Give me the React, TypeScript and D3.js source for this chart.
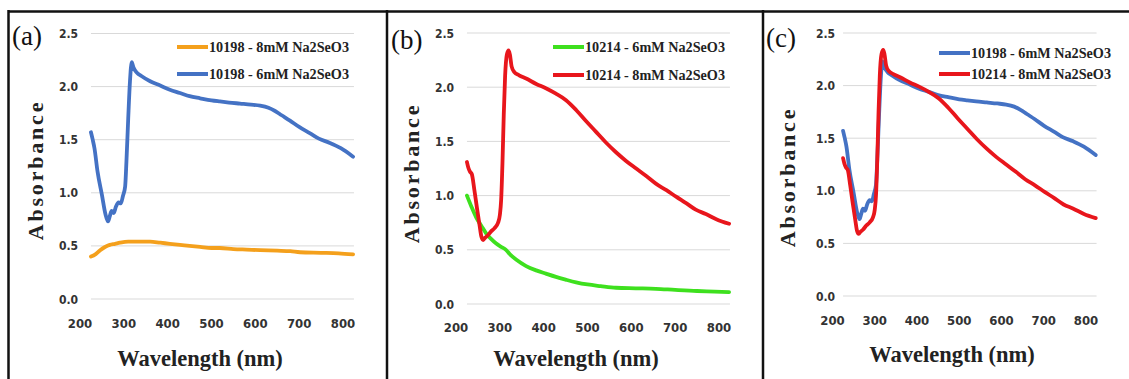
import React, { useEffect } from 'react';
import * as d3 from 'd3';

// wavelength (nm) / absorbance pairs
const wl6mM_10198 = [225, 229, 233, 240, 250, 258, 264, 268, 272, 277, 282, 288, 293, 298, 303, 306, 310, 314, 318, 322, 330, 340, 360, 383, 405, 428, 450, 474, 500, 519, 540, 565, 590, 611, 630, 645, 660, 679, 700, 725, 745, 770, 795, 823];
const abs6mM_10198 = [1.57, 1.5, 1.42, 1.2, 0.98, 0.8, 0.73, 0.78, 0.83, 0.81, 0.87, 0.91, 0.9, 0.97, 1.06, 1.3, 1.7, 2.05, 2.23, 2.18, 2.13, 2.1, 2.05, 2.01, 1.97, 1.94, 1.91, 1.89, 1.87, 1.86, 1.85, 1.84, 1.83, 1.82, 1.8, 1.77, 1.73, 1.68, 1.62, 1.56, 1.51, 1.47, 1.42, 1.34];

const wl8mM_10198 = [225, 235, 246, 257, 268, 280, 291, 310, 337, 360, 383, 405, 428, 450, 474, 500, 519, 550, 580, 611, 650, 680, 702, 750, 790, 823];
const abs8mM_10198 = [0.4, 0.42, 0.46, 0.49, 0.51, 0.52, 0.53, 0.54, 0.54, 0.54, 0.53, 0.52, 0.51, 0.5, 0.49, 0.48, 0.48, 0.47, 0.465, 0.46, 0.455, 0.45, 0.44, 0.435, 0.43, 0.42];

const wl8mM_10214 = [225, 228, 232, 236, 242, 248, 254, 258, 262, 266, 272, 280, 288, 296, 300, 303, 306, 309, 312, 316, 320, 323, 327, 333, 344, 360, 383, 405, 428, 451, 474, 496, 519, 542, 565, 588, 611, 634, 656, 680, 702, 725, 747, 770, 795, 823];
const abs8mM_10214 = [1.31, 1.26, 1.22, 1.2, 1.05, 0.88, 0.72, 0.62, 0.59, 0.61, 0.63, 0.67, 0.7, 0.75, 0.82, 0.96, 1.3, 1.75, 2.1, 2.3, 2.34, 2.3, 2.19, 2.14, 2.11, 2.08, 2.03, 1.99, 1.94, 1.88, 1.79, 1.69, 1.59, 1.49, 1.4, 1.32, 1.25, 1.18, 1.11, 1.05, 0.99, 0.93, 0.87, 0.83, 0.78, 0.74];

const wl6mM_10214 = [225, 235, 246, 258, 269, 280, 291, 302, 314, 325, 337, 360, 383, 405, 428, 450, 474, 500, 530, 565, 610, 656, 700, 750, 790, 823];
const abs6mM_10214 = [1.0, 0.9, 0.8, 0.72, 0.65, 0.6, 0.56, 0.53, 0.5, 0.45, 0.41, 0.35, 0.31, 0.28, 0.25, 0.225, 0.2, 0.18, 0.165, 0.15, 0.145, 0.14, 0.13, 0.12, 0.115, 0.11];

const xTicks = [200, 300, 400, 500, 600, 700, 800];
const yTicks = [0, 0.5, 1.0, 1.5, 2.0, 2.5];

const toPts = (xs: number[], ys: number[]) => xs.map((x, i) => ({ x, y: ys[i] }));

const S = {
  b6: { name: '10198 - 6mM  Na2SeO3', color: '#4472c4', pts: toPts(wl6mM_10198, abs6mM_10198) },
  o8: { name: '10198 - 8mM  Na2SeO3', color: '#f4a01c', pts: toPts(wl8mM_10198, abs8mM_10198) },
  r8: { name: '10214 - 8mM  Na2SeO3', color: '#e8161c', pts: toPts(wl8mM_10214, abs8mM_10214) },
  g6: { name: '10214 - 6mM  Na2SeO3', color: '#3ee01e', pts: toPts(wl6mM_10214, abs6mM_10214) },
};

type Series = typeof S.b6;

type PanelCfg = {
  tag: string;
  ox: number;
  xr: [number, number]; // pixel of 200 and 800
  yr: [number, number]; // pixel of 0 and 2.5
  yLblX: number;
  xLblY: number;
  tagY: number;
  tagX: number;
  absY: number;
  wlY: number;
  legX: number;
  legY: [number, number];
  series: Series[];
  legend: Series[];
};

const panels: PanelCfg[] = [
  { tag: '(a)', ox: 0, xr: [80, 343], yr: [299, 33.5], yLblX: 78, xLblY: 328, tagX: 12, tagY: 45, absY: 170, wlY: 366, legX: 177, legY: [47, 74], series: [S.o8, S.b6], legend: [S.o8, S.b6] },
  { tag: '(b)', ox: 376, xr: [80, 343], yr: [304, 33], yLblX: 78, xLblY: 332, tagX: 15, tagY: 49, absY: 173, wlY: 366, legX: 177, legY: [47, 75], series: [S.g6, S.r8], legend: [S.g6, S.r8] },
  { tag: '(c)', ox: 752, xr: [80.5, 334], yr: [296, 33], yLblX: 83, xLblY: 325, tagX: 14, tagY: 47, absY: 177, wlY: 362, legX: 187, legY: [53, 74], series: [S.b6, S.r8], legend: [S.b6, S.r8] },
];

const tickFont = 'DejaVu Sans Condensed';
const serif = 'Liberation Serif';

function Panel({ p }: { p: PanelCfg }) {
  const x = d3.scaleLinear().domain([200, 800]).range(p.xr);
  const y = d3.scaleLinear().domain([0, 2.5]).range(p.yr);
  const line = d3.line<{ x: number; y: number }>().x((d) => x(d.x)).y((d) => y(d.y)).curve(d3.curveMonotoneX);
  return (
    <g transform={`translate(${p.ox},0)`}>
      {yTicks.map((t) => (
        <line key={t} x1={x(225)} x2={x(825)} y1={y(t)} y2={y(t)} stroke="#d9d9d9" strokeWidth={1} />
      ))}
      <g fontFamily={tickFont} fontWeight="bold" fill="#333">
        {yTicks.map((t) => (
          <text key={t} x={p.yLblX} y={y(t) + 4.5} textAnchor="end" fontSize={12}>
            {t.toFixed(1)}
          </text>
        ))}
        {xTicks.map((t) => (
          <text key={t} x={x(t)} y={p.xLblY} textAnchor="middle" fontSize={13}>
            {t}
          </text>
        ))}
      </g>
      {p.series.map((s) => (
        <path key={s.name} d={line(s.pts) || undefined} fill="none" stroke={s.color} strokeWidth={3.8} strokeLinejoin="round" strokeLinecap="round" />
      ))}
      <g fontFamily={serif} fill="#222">
        {p.legend.map((s, i) => (
          <g key={s.name}>
            <line x1={p.legX} x2={p.legX + 31} y1={p.legY[i]} y2={p.legY[i]} stroke={s.color} strokeWidth={4} />
            <text x={p.legX + 32} y={p.legY[i] + 5} fontWeight="bold" fontSize={15} textLength={140} lengthAdjust="spacingAndGlyphs">
              {s.name}
            </text>
          </g>
        ))}
        <text x={p.tagX} y={p.tagY} fontSize={27} fill="#111">{p.tag}</text>
        <text transform={`translate(43,${p.absY}) rotate(-90)`} textAnchor="middle" fontWeight="bold" fontSize={22} letterSpacing={2.8}>
          Absorbance
        </text>
        <text x={200} y={p.wlY} textAnchor="middle" fontWeight="bold" fontSize={22.5}>
          Wavelength (nm)
        </text>
      </g>
    </g>
  );
}

export default function App() {
  const W = 1129;
  const H = 379;
  useEffect(() => {
    document.body.style.margin = '0';
  }, []);
  return (
    <svg width={W} height={H} viewBox={`0 0 ${W} ${H}`} style={{ display: 'block', position: 'absolute', left: 0, top: 0, background: '#fff' }}>
      {panels.map((p) => (
        <Panel key={p.tag} p={p} />
      ))}
      <line x1={8} x2={W} y1={11.5} y2={11.5} stroke="#111" strokeWidth={2.5} />
      <line x1={8.5} x2={8.5} y1={10} y2={H} stroke="#111" strokeWidth={2.5} />
      <line x1={387} x2={387} y1={10} y2={H} stroke="#111" strokeWidth={2.5} />
      <line x1={763} x2={763} y1={10} y2={H} stroke="#111" strokeWidth={2.5} />
    </svg>
  );
}
